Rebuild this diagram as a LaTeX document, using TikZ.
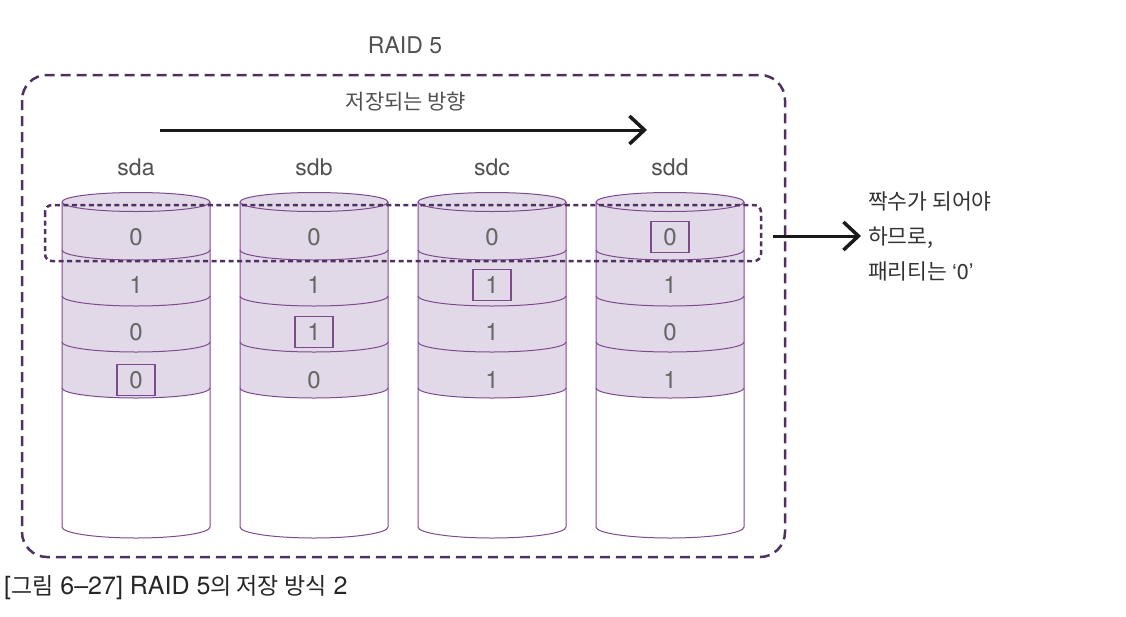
\documentclass[tikz,border=0pt]{standalone}
\usepackage{fontspec}
\setmainfont{TeX Gyre Heros}
\newfontfamily\kr{Noto Sans CJK KR}
\usetikzlibrary{arrows.meta}
\definecolor{lav}{HTML}{E1D9E8}
\definecolor{pline}{HTML}{7E4A8E}
\definecolor{dbox}{HTML}{4E3160}
\definecolor{txt}{HTML}{505050}
\definecolor{numc}{HTML}{666666}
\tikzset{
  lbl/.style={text=txt, font=\fontsize{23}{27}\selectfont, inner sep=0pt},
  num/.style={text=numc, font=\fontsize{24}{28}\selectfont, inner sep=0pt},
  cyl/.style={draw=pline, line width=1pt},
  markbox/.style={draw=pline, line width=1.8pt, minimum width=38pt, minimum height=31pt, inner sep=0pt},
  bigarrow/.style={line width=3pt, draw=black!90, -{Straight Barb[length=15pt,width=28pt,line width=3.5pt]}},
}
\begin{document}
\begin{tikzpicture}[x=1pt,y=-1pt]
\useasboundingbox (0,0) rectangle (1126,616);
% outer dashed box
\draw[dbox, line width=2.5pt, dash pattern=on 10pt off 6pt, rounded corners=25pt] (22,75) rectangle (785,557);
\node[lbl] (title) at (405,45) {RAID 5};
\node[lbl, font=\kr\fontsize{21}{26}\selectfont] (dir) at (406,102) {저장되는 방향};
\coordinate (as) at (160,130);
\coordinate (ae) at (647,130);
\draw[bigarrow] (as) -- (ae);
% cylinders
\foreach \cx/\nm/\a/\b/\c/\d/\bx in {136/sda/0/1/0/0/4, 314/sdb/0/1/1/0/3, 492/sdc/0/1/1/1/2, 670/sdd/0/1/0/1/1}{
  \fill[lav] (\cx-74,202) -- (\cx-74,388) arc[start angle=180,end angle=360,x radius=74pt,y radius=10pt]
     -- (\cx+74,202) arc[start angle=0,end angle=180,x radius=74pt,y radius=9.5pt] -- cycle;
  \draw[cyl] (\cx,202) ellipse [x radius=74pt, y radius=9.5pt];
  \draw[cyl] (\cx-74,202) -- (\cx-74,527) arc[start angle=180,end angle=360,x radius=74pt,y radius=11pt] -- (\cx+74,202);
  \foreach \sy in {250,296,342,388}{
    \draw[cyl] (\cx-74,\sy) arc[start angle=180,end angle=360,x radius=74pt,y radius=10pt];
  }
  \node[lbl] (\nm) at (\cx,167) {\nm};
  \node[num] (\nm-1) at (\cx,237) {\a};
  \node[num] (\nm-2) at (\cx,285) {\b};
  \node[num] (\nm-3) at (\cx,332) {\c};
  \node[num] (\nm-4) at (\cx,380) {\d};
  \node[markbox] (\nm-box) at (\nm-\bx.center) {};
}
% dotted parity row
\draw[dbox, line width=2.5pt, dash pattern=on 5pt off 3.5pt, rounded corners=7pt] (45,205) rectangle (761,261);
% note
\coordinate (ns) at (773,236);
\node[lbl, text=black!80, anchor=west, align=left, font=\kr\fontsize{21.5}{35}\selectfont] (note) at (868,236) {짝수가 되어야\\하므로,\\패리티는 {\rmfamily ‘0’}};
\draw[bigarrow, shorten >=7pt] (ns) -- (note.west);
% caption
\node[lbl, text=black!85, anchor=west, font=\fontsize{25}{29}\selectfont] (cap) at (4,588) {[{\kr\fontsize{23}{29}\selectfont 그림} 6–27] RAID 5{\kr\fontsize{23}{29}\selectfont 의 저장 방식} 2};
\end{tikzpicture}
\end{document}
